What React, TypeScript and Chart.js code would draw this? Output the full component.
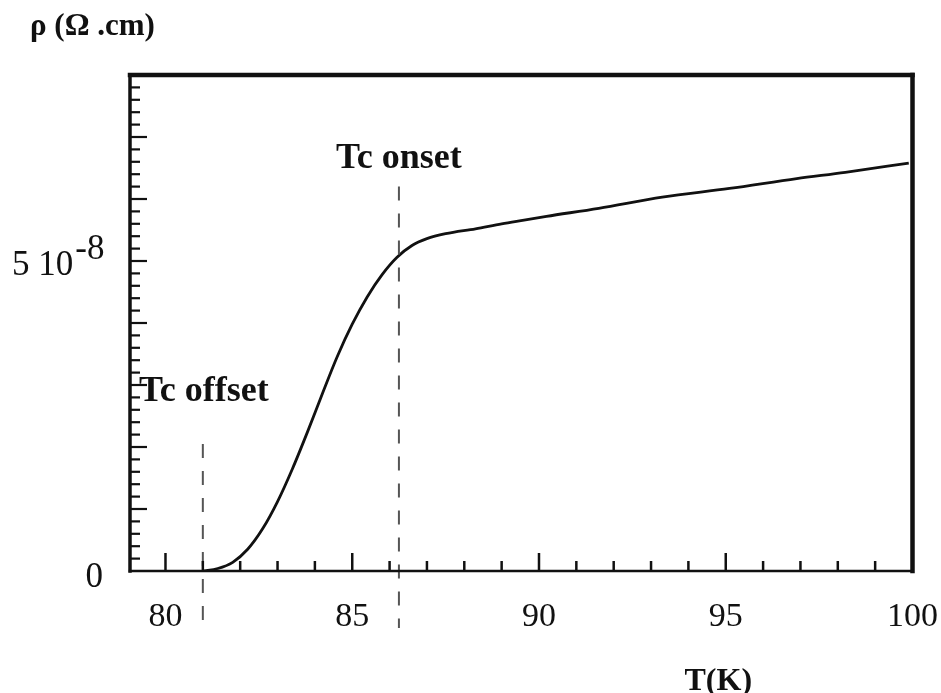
import React, { useEffect, useRef } from 'react';
import { Chart, registerables } from 'chart.js';

Chart.register(...registerables);

// Temperature (K) and resistivity (in units of 1e-8 Ω·cm)
const temperatureK = [81.0, 81.4, 81.8, 82.2, 82.6, 83.0, 83.4, 83.8, 84.2, 84.6, 85.0, 85.4, 85.8, 86.2, 86.6, 87.0, 87.5, 88.3, 89.0, 89.6, 90.2, 91.6, 93.3, 95.1, 96.9, 98.2, 99.9];
const resistivity = [0, 0.04, 0.14, 0.35, 0.68, 1.12, 1.65, 2.24, 2.86, 3.46, 3.98, 4.42, 4.78, 5.06, 5.25, 5.36, 5.44, 5.52, 5.6, 5.66, 5.72, 5.85, 6.03, 6.17, 6.33, 6.43, 6.58];

const xTickValues = [80, 85, 90, 95, 100];
const yTickValues = [0, 5];
const yTickMain = ['0', '5 10'];
const yTickSup = ['', '-8'];

const tcOffset = 81.0;
const tcOnset = 86.25;
const tcOffsetLabel = 'Tc offset';
const tcOnsetLabel = 'Tc onset';
const yAxisTitle = 'ρ (Ω .cm)';
const xAxisTitle = 'T(K)';

const X_MIN = 79.05;
const X_MAX = 100;
const Y_MIN = 0;
const Y_MAX = 8;

const SERIF = "'Liberation Serif', 'Times New Roman', 'DejaVu Serif', serif";
const INK = '#111';

const decorPlugin = {
  id: 'decor',
  afterDraw(chart: any) {
    const ctx = chart.ctx as CanvasRenderingContext2D;
    const { left, right, top, bottom } = chart.chartArea;
    const xs = chart.scales.x;
    const ys = chart.scales.y;
    ctx.save();

    // dashed marker lines
    ctx.strokeStyle = '#555';
    ctx.lineWidth = 2;
    ctx.setLineDash([14, 13]);
    const px1 = xs.getPixelForValue(tcOffset);
    ctx.beginPath();
    ctx.moveTo(px1, ys.getPixelForValue(2.05));
    ctx.lineTo(px1, bottom + 57);
    ctx.stroke();
    const px2 = xs.getPixelForValue(tcOnset);
    ctx.beginPath();
    ctx.moveTo(px2, ys.getPixelForValue(6.2));
    ctx.lineTo(px2, bottom + 57);
    ctx.stroke();
    ctx.setLineDash([]);

    // inward tick marks
    ctx.strokeStyle = INK;
    ctx.lineWidth = 2.5;
    for (let t = 80; t <= 99; t += 1) {
      const px = xs.getPixelForValue(t);
      const len = t % 5 === 0 ? 18 : 10;
      ctx.beginPath();
      ctx.moveTo(px, bottom);
      ctx.lineTo(px, bottom - len);
      ctx.stroke();
    }
    ctx.lineWidth = 2.2;
    for (let i = 1; i < 40; i++) {
      const v = i * 0.2;
      const py = ys.getPixelForValue(v);
      const len = i % 5 === 0 ? 17 : 10;
      ctx.beginPath();
      ctx.moveTo(left, py);
      ctx.lineTo(left + len, py);
      ctx.stroke();
    }

    // frame
    ctx.lineCap = 'square';
    const seg = (x1: number, y1: number, x2: number, y2: number, w: number) => {
      ctx.lineWidth = w;
      ctx.beginPath();
      ctx.moveTo(x1, y1);
      ctx.lineTo(x2, y2);
      ctx.stroke();
    };
    seg(left, top, right, top, 4.5);
    seg(right, top, right, bottom, 4.5);
    seg(left, top, left, bottom, 3.5);
    seg(left, bottom, right, bottom, 2.5);

    // y tick labels
    ctx.fillStyle = INK;
    ctx.font = `35px ${SERIF}`;
    ctx.textBaseline = 'alphabetic';
    yTickValues.forEach((v, i) => {
      const py = ys.getPixelForValue(v);
      if (yTickSup[i]) {
        ctx.textAlign = 'left';
        const mainX = 12;
        ctx.fillText(yTickMain[i], mainX, py + 14);
        const w = ctx.measureText(yTickMain[i]).width;
        ctx.fillText(yTickSup[i], mainX + w + 2, py - 2);
      } else {
        ctx.textAlign = 'right';
        ctx.fillText(yTickMain[i], 103, py + 16);
      }
    });

    // annotations
    ctx.font = `bold 36px ${SERIF}`;
    ctx.textAlign = 'center';
    ctx.fillText(tcOnsetLabel, px2, ys.getPixelForValue(6.5));
    ctx.fillText(tcOffsetLabel, px1 + 1, ys.getPixelForValue(2.75));

    // axis titles
    ctx.font = `bold 31px ${SERIF}`;
    ctx.textAlign = 'left';
    ctx.fillText(yAxisTitle, 30, 35);
    ctx.font = `bold 32px ${SERIF}`;
    ctx.textAlign = 'center';
    ctx.fillText(xAxisTitle, xs.getPixelForValue(94.8), 690);

    ctx.restore();
  },
};

export default function App() {
  const canvasRef = useRef<HTMLCanvasElement>(null);

  useEffect(() => {
    if (!canvasRef.current) return;
    const points = temperatureK.map((t, i) => ({ x: t, y: resistivity[i] }));
    const chart = new Chart(canvasRef.current, {
      type: 'line',
      data: {
        datasets: [
          {
            data: points,
            borderColor: INK,
            borderWidth: 2.8,
            pointRadius: 0,
            cubicInterpolationMode: 'monotone',
            fill: false,
          },
        ],
      },
      options: {
        animation: false,
        responsive: false,
        maintainAspectRatio: false,
        layout: { padding: { left: 0, top: 75, right: 28.5, bottom: 0 } },
        plugins: { legend: { display: false }, tooltip: { enabled: false } },
        scales: {
          x: {
            type: 'linear',
            min: X_MIN,
            max: X_MAX,
            grid: { display: false, drawTicks: false },
            border: { display: false },
            afterBuildTicks: (scale: any) => {
              scale.ticks = xTickValues.map((v) => ({ value: v }));
            },
            afterFit: (scale: any) => {
              scale.height = 122;
              scale.paddingLeft = 0;
              scale.paddingRight = 0;
            },
            ticks: {
              padding: 26,
              color: INK,
              font: { family: SERIF, size: 34 },
              maxRotation: 0,
              callback: (v: any) => String(v),
            },
          },
          y: {
            type: 'linear',
            min: Y_MIN,
            max: Y_MAX,
            grid: { display: false, drawTicks: false },
            border: { display: false },
            ticks: { display: false },
            afterFit: (scale: any) => {
              scale.width = 130;
              scale.paddingTop = 0;
              scale.paddingBottom = 0;
            },
          },
        },
      },
      plugins: [decorPlugin],
    } as any);
    return () => chart.destroy();
  }, []);

  return (
    <div style={{ position: 'absolute', left: 0, top: 0, width: 941, height: 693, background: '#fff' }}>
      <canvas ref={canvasRef} width={941} height={693} style={{ display: 'block' }} />
    </div>
  );
}
